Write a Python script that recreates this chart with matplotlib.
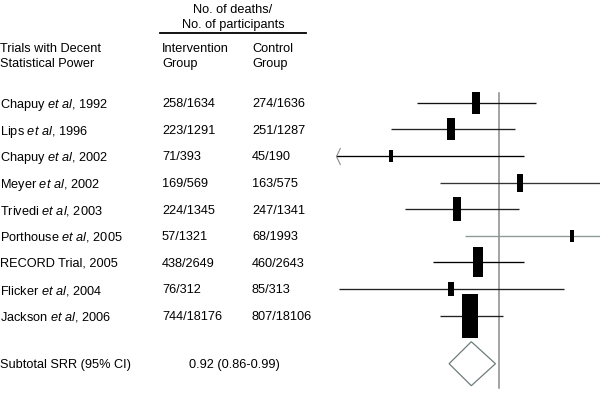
import numpy as np
import matplotlib
matplotlib.use("Agg")
import matplotlib.pyplot as plt
from matplotlib.path import Path
from matplotlib.transforms import blended_transform_factory

plt.rcParams['font.family'] = ['Liberation Sans', 'DejaVu Sans']
plt.rcParams['mathtext.fontset'] = 'custom'
plt.rcParams['mathtext.rm'] = 'Liberation Sans'
plt.rcParams['mathtext.it'] = 'Liberation Sans:italic'

# ---------------- data ----------------
authors = ["Chapuy", "Lips", "Chapuy", "Meyer", "Trivedi", "Porthouse",
           "RECORD Trial", "Flicker", "Jackson"]
et_al = [True, True, True, True, True, True, False, True, True]
years = [1992, 1996, 2002, 2002, 2003, 2005, 2005, 2004, 2006]
intervention = ["258/1634", "223/1291", "71/393", "169/569", "224/1345",
                "57/1321", "438/2649", "76/312", "744/18176"]
control = ["274/1636", "251/1287", "45/190", "163/575", "247/1341",
           "68/1993", "460/2643", "85/313", "807/18106"]
rr = [0.933, 0.865, 0.72, 1.066, 0.88, 1.25, 0.94, 0.866, 0.917]
ci_low = [0.78, 0.72, 0.55, 0.836, 0.752, 0.902, 0.82, 0.616, 0.836]
ci_high = [1.12, 1.05, 1.08, 1.45, 1.063, 1.70, 1.08, 1.22, 1.012]
weights = [9.2, 8.4, 3.2, 6.2, 11.0, 2.7, 17.1, 3.7, 38.5]
subtotal = [0.92, 0.86, 0.99]
subtotal_label = "Subtotal SRR (95% CI)"
subtotal_text = "0.92 (0.86-0.99)"

# ---------------- styles ----------------
ci_colors = ["#111111", "#222222", "#000000", "#333333", "#222222",
             "#8c9a9a", "#000000", "#222222", "#222222"]
FS = 9.2
W, H = 600, 420
DPI = 100

fig = plt.figure(figsize=(W / DPI, H / DPI), dpi=DPI)
fig.patch.set_facecolor("white")
ax_left_px = 336
ax = fig.add_axes([ax_left_px / W, 0, 1 - ax_left_px / W, 1])
ax.set_xscale("log")
ax.set_xlim(0.61, 1.36)
row0_px, row_px = 102.7, 26.6
ax.set_ylim((H - row0_px) / row_px, -row0_px / row_px)
ax.axis("off")

def px_row(p):
    return (p - row0_px) / row_px

n = len(rr)
ys = np.arange(n)
xmin = ax.get_xlim()[0]

def box_path(ratio):
    return Path([(-ratio, -1), (ratio, -1), (ratio, 1), (-ratio, 1), (-ratio, -1)],
                [Path.MOVETO, Path.LINETO, Path.LINETO, Path.LINETO, Path.CLOSEPOLY])

arrow_path = Path([(0.47, 1), (0, 0), (0.47, -1)],
                  [Path.MOVETO, Path.LINETO, Path.LINETO])

# reference line at RR = 1
ax.plot([1, 1], [px_row(93), px_row(388)], color="#8a8a8a", lw=1.1, zorder=1)

for i in range(n):
    lo = max(ci_low[i], xmin)
    ax.plot([lo, ci_high[i]], [ys[i], ys[i]], color=ci_colors[i], lw=0.95,
            solid_capstyle="butt", zorder=2)
    if ci_low[i] < xmin:
        ax.plot([xmin], [ys[i]], marker=arrow_path, markersize=17 * 72 / DPI,
                markerfacecolor="none", markeredgecolor="#8a8a8a",
                markeredgewidth=0.8, clip_on=False, zorder=3)
    h_px = 7.25 * np.sqrt(weights[i])
    w_px = max(3.2, 0.36 * h_px)
    ax.plot([rr[i]], [ys[i]], marker=box_path(w_px / h_px),
            markersize=h_px * 72 / DPI, color="black", markeredgewidth=0,
            linestyle="none", zorder=4)

# summary diamond
yd = px_row(363.7)
hd = 22 / row_px
ax.fill([subtotal[1], subtotal[0], subtotal[2], subtotal[0]],
        [yd, yd - hd, yd, yd + hd], facecolor="white",
        edgecolor="#6e7c7c", lw=0.9, zorder=3)

# ---------------- text ----------------
tr = blended_transform_factory(fig.transFigure, ax.transData)

def T(xpx, y, s, **kw):
    ax.text(xpx / W, y, s, transform=tr, fontsize=FS, clip_on=False,
            va="center_baseline", **kw)

T(233, px_row(8), "No. of deaths/", ha="center")
T(233, px_row(23.5), "No. of participants", ha="center")
ax.plot([160 / W, 306 / W], [px_row(33), px_row(33)], transform=tr,
        color="black", lw=1.3, clip_on=False)
T(0, px_row(47.5), "Trials with Decent", ha="left")
T(0, px_row(62.5), "Statistical Power", ha="left")
T(162, px_row(47.5), "Intervention", ha="left")
T(162, px_row(62.5), "Group", ha="left")
T(252, px_row(47.5), "Control", ha="left")
T(252, px_row(62.5), "Group", ha="left")

for i in range(n):
    if et_al[i]:
        label = authors[i] + r" $\it{et\ al}$, " + str(years[i])
    else:
        label = authors[i] + ", " + str(years[i])
    T(0, ys[i], label, ha="left")
    T(162, ys[i], intervention[i], ha="left")
    T(252, ys[i], control[i], ha="left")

T(0, yd, subtotal_label, ha="left")
T(189, yd, subtotal_text, ha="left")

fig.savefig("out.png", dpi=DPI, facecolor="white")
